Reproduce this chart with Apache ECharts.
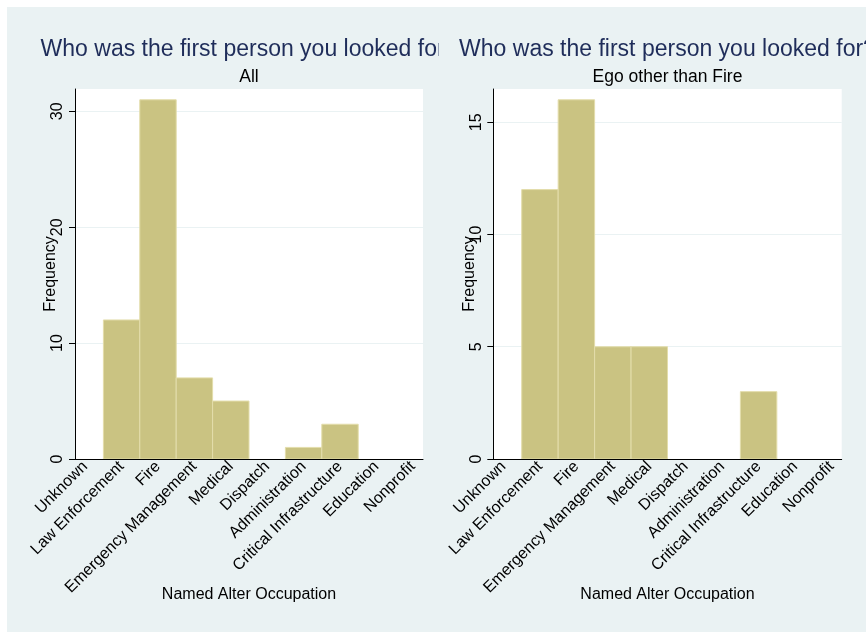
<!DOCTYPE html>
<html>
<head>
<meta charset="utf-8">
<script src="https://cdn.jsdelivr.net/npm/echarts@6/dist/echarts.min.js"></script>
<style>
  html, body { margin: 0; padding: 0; background: #fff; }
  #wrap { position: relative; width: 866px; height: 632px; overflow: hidden; background: #fff; }
  #panel { position: absolute; left: 7px; top: 7px; right: 0; bottom: 0; background: #eaf2f3; }
  #chart { position: absolute; left: 0; top: 0; width: 866px; height: 632px; }
</style>
</head>
<body>
<div id="wrap"><div id="panel"></div><div id="chart"></div></div>
<script>
// Occupation categories along the x axis (one bin each, coded 1..10)
const categories = ['Unknown', 'Law Enforcement', 'Fire', 'Emergency Management', 'Medical',
  'Dispatch', 'Administration', 'Critical Infrastructure', 'Education', 'Nonprofit'];
// Frequencies per category
const allCounts = [0, 12, 31, 7, 5, 0, 1, 3, 0, 0];
const nonFireCounts = [0, 12, 16, 5, 5, 0, 0, 3, 0, 0];
// Y tick values per panel
const allTicks = [0, 10, 20, 30];
const nonFireTicks = [0, 5, 10, 15];
const titleText = 'Who was the first person you looked for?';
const subtitles = ['All', 'Ego other than Fire'];
const xTitle = 'Named Alter Occupation';
const yTitle = 'Frequency';

const FONT = '"Liberation Sans", Arial, Helvetica, sans-serif';
const BG = '#eaf2f3';
const BAR_FILL = '#cac382';
const BAR_EDGE = '#e3ddab';

const grids = [
  { left: 75, top: 89, width: 348, height: 370 },
  { left: 493.3, top: 89, width: 348.4, height: 370 }
];

const codes = categories.map((c, i) => i + 1);

function xAxisFor(gi) {
  return {
    type: 'value', gridIndex: gi, min: 0.72, max: 10.28, z: 5,
    axisLine: { show: true, onZero: false, lineStyle: { color: '#000', width: 1 } },
    axisTick: { show: false },
    splitLine: { show: false },
    axisLabel: {
      customValues: codes,
      formatter: v => categories[Math.round(v) - 1],
      rotate: 45, margin: 5, fontSize: 16, color: '#000', fontFamily: FONT
    },
    name: xTitle, nameLocation: 'middle', nameGap: 128, nameMoveOverlap: false,
    nameTextStyle: { fontSize: 16, color: '#000', fontFamily: FONT }
  };
}

function yAxisFor(gi, counts, ticks) {
  return {
    type: 'value', gridIndex: gi, min: 0, max: Math.max(...counts) * 1.03,
    interval: ticks[1] - ticks[0],
    axisLine: { show: true, onZero: false, lineStyle: { color: '#000', width: 1 } },
    axisTick: { show: true, length: 6, customValues: ticks, lineStyle: { color: '#000' } },
    axisLabel: { customValues: ticks, rotate: 90, margin: 9, fontSize: 16, color: '#000', fontFamily: FONT },
    splitLine: { show: true, lineStyle: { color: BG, width: 1 } },
    name: yTitle, nameLocation: 'middle', nameGap: 16, nameRotate: 90, nameMoveOverlap: false,
    nameTextStyle: { fontSize: 16, color: '#000', fontFamily: FONT }
  };
}

// Histogram bins: each category spans [code - 0.5, code + 0.5]
function renderBin(params, api) {
  const x = api.value(0), v = api.value(1);
  if (!v) return null;
  const p0 = api.coord([x - 0.5, v]);
  const p1 = api.coord([x + 0.5, 0]);
  return {
    type: 'rect',
    shape: { x: p0[0], y: p0[1], width: p1[0] - p0[0], height: p1[1] - p0[1] },
    style: { fill: BAR_FILL, stroke: BAR_EDGE, lineWidth: 1 }
  };
}

function binSeries(gi, counts) {
  return {
    type: 'custom', xAxisIndex: gi, yAxisIndex: gi, z: 2,
    renderItem: renderBin,
    data: counts.map((v, i) => [codes[i], v])
  };
}

function textEl(text, x, y, size, color) {
  return {
    type: 'text', x: x, y: y, z: 100,
    style: {
      text: text, fontSize: size, fontFamily: FONT, fill: color,
      align: 'center', textAlign: 'center', verticalAlign: 'middle', textVerticalAlign: 'middle'
    }
  };
}

const centers = grids.map(g => g.left + g.width / 2);

const chart = echarts.init(document.getElementById('chart'), null, { renderer: 'canvas' });
chart.setOption({
  backgroundColor: 'transparent',
  animation: false,
  grid: grids.map(g => Object.assign({ show: true, backgroundColor: '#fff', borderWidth: 0 }, g)),
  xAxis: [xAxisFor(0), xAxisFor(1)],
  yAxis: [yAxisFor(0, allCounts, allTicks), yAxisFor(1, nonFireCounts, nonFireTicks)],
  series: [binSeries(0, allCounts), binSeries(1, nonFireCounts)],
  graphic: [
    textEl(titleText, centers[0], 49.5, 23, '#1f2d5a'),
    textEl(titleText, centers[1], 49.5, 23, '#1f2d5a'),
    // left panel ends here; its title overflow is hidden
    { type: 'rect', z: 101, shape: { x: 439, y: 28, width: 20, height: 40 }, style: { fill: BG } },
    textEl(subtitles[0], centers[0], 77, 17.5, '#000'),
    textEl(subtitles[1], centers[1], 77, 17.5, '#000')
  ]
});
</script>
</body>
</html>
